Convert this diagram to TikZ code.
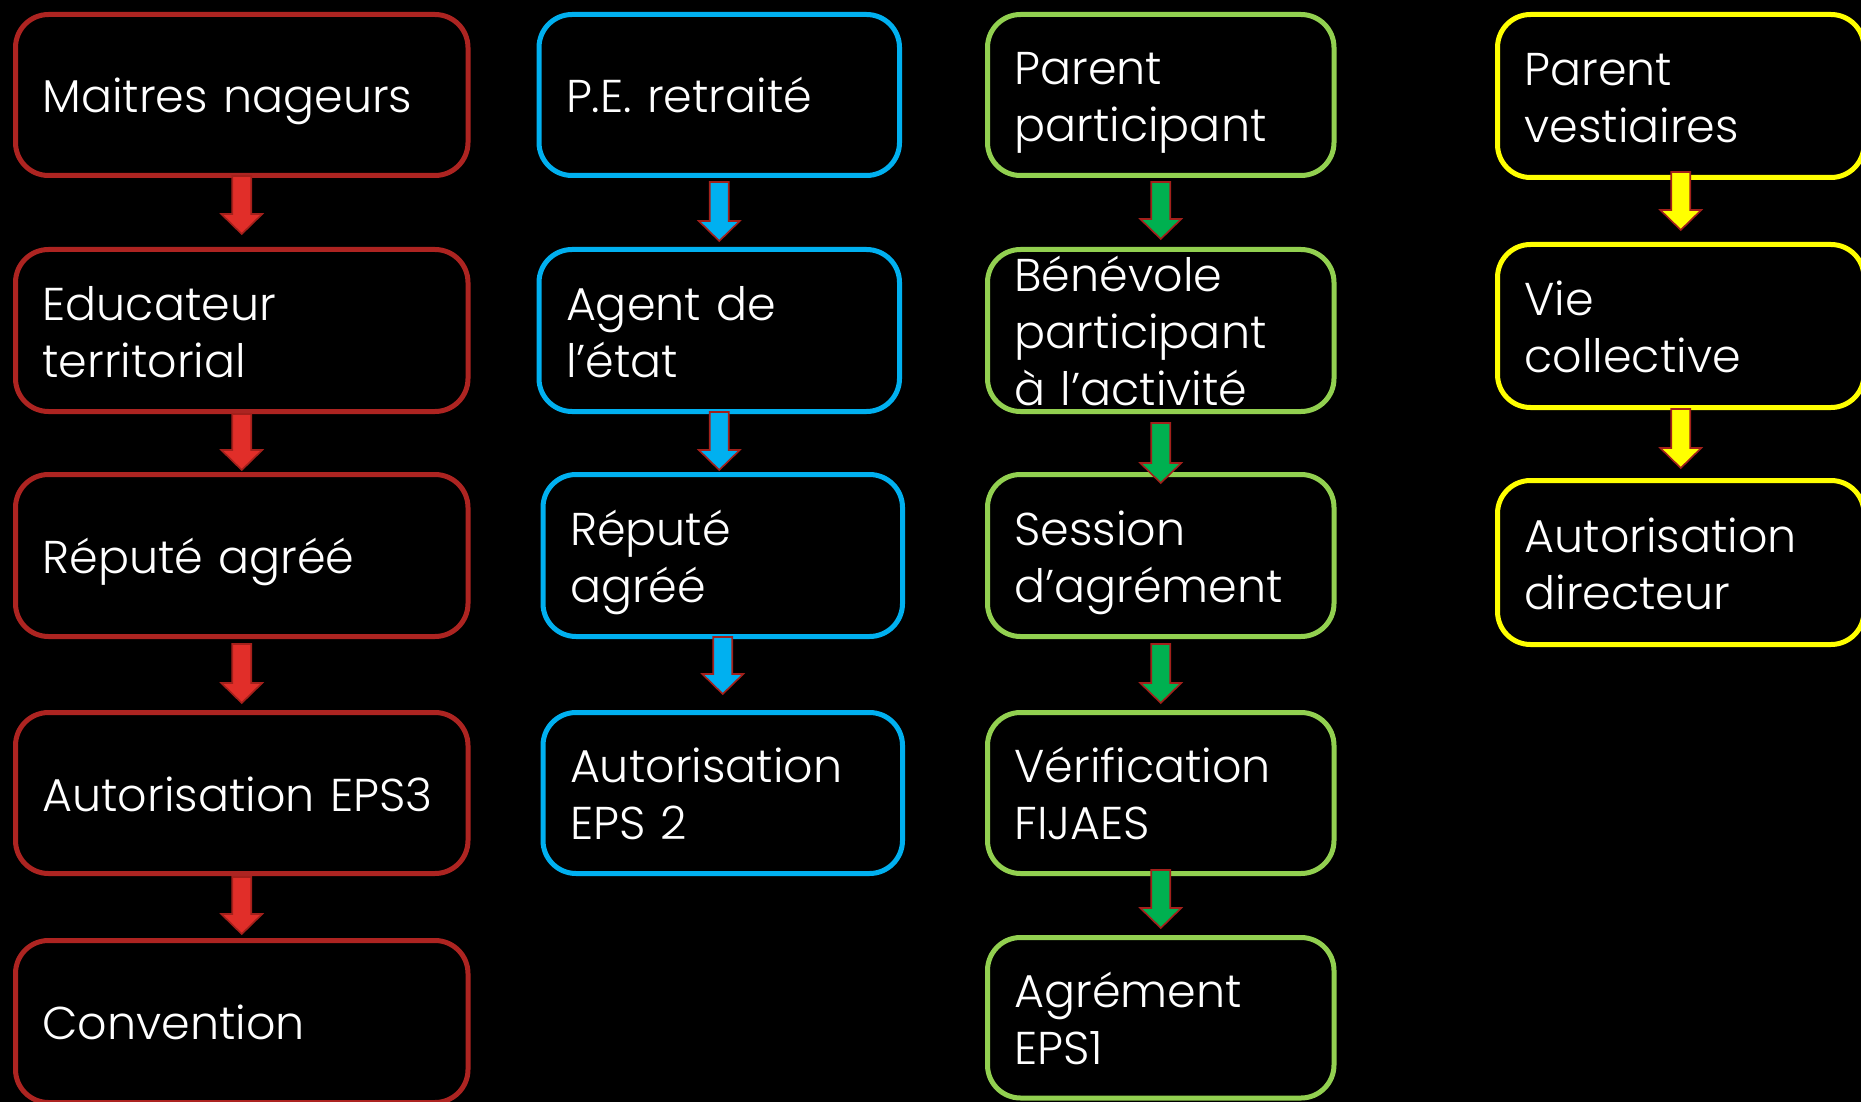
\documentclass[tikz,border=0pt]{standalone}
\usepackage{fontspec}
\setmainfont{Poppins Light}
\usetikzlibrary{calc}
\definecolor{cred}{HTML}{AD2421}
\definecolor{cblue}{HTML}{00B0F0}
\definecolor{cgreen}{HTML}{92D050}
\definecolor{cyell}{HTML}{FFFF00}
\definecolor{redfill}{HTML}{E12E29}
\definecolor{greenfill}{HTML}{00B050}
\definecolor{arrowline}{HTML}{A3201B}
\tikzset{
  box/.style={draw, rounded corners=33pt, line width=5pt, fill=black, text=white,
    align=left, inner xsep=27pt, inner ysep=0pt, outer sep=0pt,
    font=\fontsize{46}{57}\selectfont},
  flowarr/.style={line width=1.6pt, draw=arrowline, line join=miter}
}
\newcommand\bl[1]{\smash{#1}\rule[-4pt]{0pt}{44pt}}
% #1 fill, #2 from, #3 to, #4 start offset below from.south, #5 tip offset above to.north
\newcommand\flowarrow[5]{%
  \draw[flowarr,fill=#1] let \p1=(#2.south), \p2=(#3.north), \n1={\y1-#4pt}, \n2={\y2+#5pt} in
    (\x1-9.5pt,\n1) -- (\x1+9.5pt,\n1) -- (\x1+9.5pt,\n2+20pt) -- (\x1+20.5pt,\n2+20pt)
    -- (\x1,\n2) -- (\x1-20.5pt,\n2+20pt) -- (\x1-9.5pt,\n2+20pt) -- cycle;}
\begin{document}
\begin{tikzpicture}[x=1pt,y=-1pt]
\fill[black] (0,0) rectangle (1861,1102);
\useasboundingbox (0,0) rectangle (1861,1102);
% red column (x 15.5 - 468)
\node[box, draw=cred, text width=398.5pt, minimum height=161pt] (r1) at (241.75,95) {\bl{Maitres nageurs}};
\node[box, draw=cred, text width=398.5pt, minimum height=162pt] (r2) at (241.75,330.5) {\bl{Educateur}\\\bl{territorial}};
\node[box, draw=cred, text width=398.5pt, minimum height=162pt] (r3) at (241.75,555.5) {\bl{Réputé agréé}};
\node[box, draw=cred, text width=398.5pt, minimum height=161pt] (r4) at (241.75,793) {\bl{Autorisation EPS3}};
\node[box, draw=cred, text width=398.5pt, minimum height=162pt] (r5) at (241.75,1021.5) {\bl{Convention}};
% blue column
\node[box, draw=cblue, text width=306.5pt, minimum height=161pt] (b1) at (719.25,95) {\bl{P.E. retraité}};
\node[box, draw=cblue, text width=306.5pt, minimum height=162pt] (b2) at (719.25,330.5) {\bl{Agent de}\\\bl{l’état}};
\node[box, draw=cblue, text width=305.5pt, minimum height=162pt] (b3) at (722.75,555.5) {\bl{Réputé}\\\bl{agréé}};
\node[box, draw=cblue, text width=305.5pt, minimum height=161pt] (b4) at (722.75,793) {\bl{Autorisation}\\\bl{EPS 2}};
% green column
\node[box, draw=cgreen, text width=292.5pt, minimum height=161pt] (g1) at (1160.75,95) {\bl{Parent}\\\bl{participant}};
\node[box, draw=cgreen, text width=292.5pt, minimum height=162pt] (g2) at (1160.75,330.5) {\bl{Bénévole}\\\bl{participant}\\\bl{à l’activité}};
\node[box, draw=cgreen, text width=292.5pt, minimum height=162pt] (g3) at (1160.75,555.5) {\bl{Session}\\\bl{d’agrément}};
\node[box, draw=cgreen, text width=292.5pt, minimum height=161pt] (g4) at (1160.75,793) {\bl{Vérification}\\\bl{FIJAES}};
\node[box, draw=cgreen, text width=292.5pt, minimum height=160.5pt] (g5) at (1160.75,1017.75) {\bl{Agrément}\\\bl{EPS1}};
% yellow column
\node[box, draw=cyell, text width=312.5pt, minimum height=163pt] (y1) at (1680.75,96) {\bl{Parent}\\\bl{vestiaires}};
\node[box, draw=cyell, text width=312.5pt, minimum height=163pt] (y2) at (1680.75,326) {\bl{Vie}\\\bl{collective}};
\node[box, draw=cyell, text width=312.5pt, minimum height=164pt] (y3) at (1680.75,562.5) {\bl{Autorisation}\\\bl{directeur}};
% arrows
\flowarrow{redfill}{r1}{r2}{0.5}{15.5}
\flowarrow{redfill}{r2}{r3}{2.5}{4.5}
\flowarrow{redfill}{r3}{r4}{7.5}{9.5}
\flowarrow{redfill}{r4}{r5}{3.5}{6.5}
\flowarrow{cblue}{b1}{b2}{6.5}{8.5}
\flowarrow{cblue}{b2}{b3}{0.5}{4.5}
\flowarrow{cblue}{b3}{b4}{0.5}{18.5}
\flowarrow{greenfill}{g1}{g2}{6.5}{10.5}
\flowarrow{greenfill}{g2}{g3}{11.5}{-8.5}
\flowarrow{greenfill}{g3}{g4}{7.5}{9.5}
\flowarrow{greenfill}{g4}{g5}{-3.5}{9.5}
\flowarrow{cyell}{y1}{y2}{-5.5}{14.5}
\flowarrow{cyell}{y2}{y3}{1.5}{12.5}
\end{tikzpicture}
\end{document}
